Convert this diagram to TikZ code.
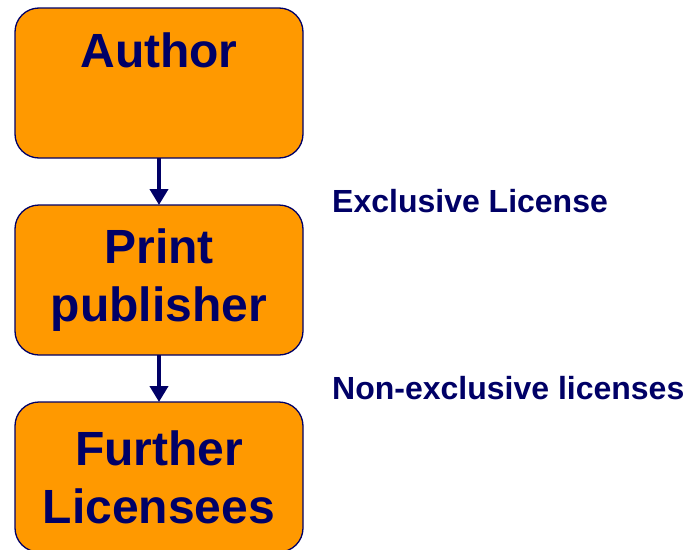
\documentclass[tikz,border=0pt]{standalone}
\usepackage{fontspec}
\setmainfont{Liberation Sans}
\usetikzlibrary{arrows.meta}
\definecolor{boxorange}{RGB}{255,153,0}
\definecolor{textnavy}{RGB}{0,0,102}
\tikzset{
  stagebox/.style={draw=textnavy,line width=1.3pt,fill=boxorange,rounded corners=24pt,
    minimum width=288pt,minimum height=150pt,inner sep=0pt,outer sep=0pt,align=center,
    text=textnavy,font=\bfseries\fontsize{48}{58}\selectfont},
  licarrow/.style={draw=textnavy,line width=4.5pt,-{Triangle[width=18pt,length=16pt]}},
  liclabel/.style={anchor=base west,inner sep=0pt,text=textnavy,font=\bfseries\fontsize{32}{38}\selectfont}
}
\begin{document}
\begin{tikzpicture}[x=1pt,y=-1pt]
  \useasboundingbox (0,0) rectangle (688,549);
  \node[stagebox] (author) at (159,83) {Author\\[8pt] \mbox{}};
  \node[stagebox] (print) at (159,280) {Print\\publisher};
  \node[stagebox] (further) at (159,477) {Further\\Licensees};
  \draw[licarrow] (author.south) -- (print.north);
  \draw[licarrow] (print.south) -- (further.north);
  \node[liclabel] (exclusive) at (332,212) {Exclusive License};
  \node[liclabel] (nonexclusive) at (332,399) {Non-exclusive licenses};
\end{tikzpicture}
\end{document}
